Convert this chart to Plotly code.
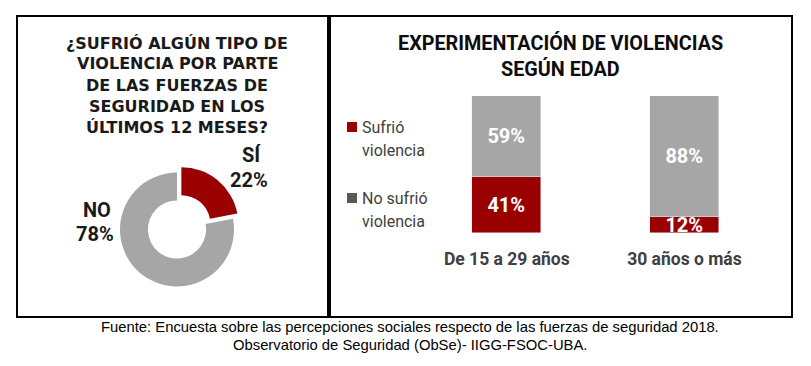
import plotly.graph_objects as go

# ---------------- data ----------------
pie_labels = ["SÍ", "NO"]
pie_values = [22, 78]

age_groups = ["De 15 a 29 años", "30 años o más"]
series_names = ["Sufrió violencia", "No sufrió violencia"]
sufrio = [41, 12]
no_sufrio = [59, 88]

left_title = ["¿SUFRIÓ ALGÚN TIPO DE", "VIOLENCIA POR PARTE", "DE LAS FUERZAS DE",
              "SEGURIDAD EN LOS", "ÚLTIMOS 12 MESES?"]
right_title = ["EXPERIMENTACIÓN DE VIOLENCIAS", "SEGÚN EDAD"]
footer = ["Fuente: Encuesta sobre las percepciones sociales respecto de las fuerzas de seguridad 2018.",
          "Observatorio de Seguridad (ObSe)- IIGG-FSOC-UBA."]

# ---------------- styles ----------------
W, H = 811, 366
OFF = 8  # page body margin
RED = "#9A0000"
GRAY = "#A6A6A6"
DGRAY = "#595959"
NARROW = "Roboto, Liberation Sans, Arial, sans-serif"
SANS = "Liberation Sans, Arial, sans-serif"
WIDE = "DejaVu Sans, Verdana, sans-serif"


def fx(x):
    return (x - OFF) / W


def fy(y):
    return 1 - (y - OFF) / H


fig = go.Figure()

# donut
cx, cy, r, pull = 177, 229.5, 57, 0.12
half = r * (1 + pull)
fig.add_trace(go.Pie(
    labels=pie_labels, values=pie_values, hole=0.51, sort=False,
    direction="clockwise", rotation=0, pull=[pull, 0],
    marker=dict(colors=[RED, GRAY], line=dict(width=0)),
    textinfo="none", hoverinfo="label+percent", showlegend=False,
    domain=dict(x=[fx(cx - half), fx(cx + half)], y=[fy(cy + half), fy(cy - half)]),
))

# stacked bars
bar_font = dict(family=NARROW, size=20, color="white", weight="bold")
fig.add_trace(go.Bar(
    x=age_groups, y=sufrio, name=series_names[0], marker_color=RED, width=0.39,
    text=[f"{v}%" for v in sufrio], textposition="inside", insidetextanchor="middle",
    textangle=0, constraintext="none", textfont=bar_font, showlegend=False,
))
fig.add_trace(go.Bar(
    x=age_groups, y=no_sufrio, name=series_names[1], marker_color=GRAY, width=0.39,
    text=[f"{v}%" for v in no_sufrio], textposition="inside", insidetextanchor="middle",
    textangle=0, constraintext="none", textfont=bar_font, showlegend=False,
))

x0, x1 = 347, 791
fig.update_layout(
    width=W, height=H, margin=dict(l=0, r=0, t=0, b=0),
    paper_bgcolor="white", plot_bgcolor="white",
    barmode="stack", bargap=0,
    xaxis=dict(domain=[fx(x0), fx(x1)], range=[-0.9, 1.6], showgrid=False,
               zeroline=False, showline=False, ticks="", ticklabelstandoff=13,
               tickfont=dict(family=NARROW, size=17.5, color="#404040", weight="bold")),
    yaxis=dict(domain=[fy(233), fy(96)], range=[0, 100], visible=False),
)

shapes = [
    dict(type="rect", xref="paper", yref="paper", x0=fx(17), x1=fx(328), y0=fy(317), y1=fy(16),
         line=dict(color="black", width=2)),
    dict(type="rect", xref="paper", yref="paper", x0=fx(330), x1=fx(792), y0=fy(317), y1=fy(16),
         line=dict(color="black", width=2)),
    dict(type="rect", xref="paper", yref="paper", x0=fx(347), x1=fx(357), y0=fy(132), y1=fy(122),
         fillcolor=RED, line=dict(width=0)),
    dict(type="rect", xref="paper", yref="paper", x0=fx(347), x1=fx(357), y0=fy(203), y1=fy(193),
         fillcolor=DGRAY, line=dict(width=0)),
]

ann = []
for i, line in enumerate(left_title):
    ann.append(dict(text=line, x=fx(177), y=fy(43 + 21 * i),
                    font=dict(family=WIDE, size=16, color="#1a1a1a", weight="bold")))
for i, line in enumerate(right_title):
    ann.append(dict(text=line, x=fx(560.5), y=fy(43 + 26 * i),
                    font=dict(family=NARROW, size=19.8, color="#0d0d0d", weight="bold")))
pie_font = dict(family=NARROW, size=20, color="#1a1a1a", weight="bold")
ann += [
    dict(text=pie_labels[0], x=fx(263), y=fy(155), xanchor="right", font=pie_font),
    dict(text=f"{pie_values[0]}%", x=fx(270), y=fy(180), xanchor="right", font=pie_font),
    dict(text=pie_labels[1], x=fx(96.5), y=fy(210), font=pie_font),
    dict(text=f"{pie_values[1]}%", x=fx(95), y=fy(234), font=pie_font),
]
leg_font = dict(family=NARROW, size=16, color="#404040")
leg_lines = [("Sufrió", 127), ("violencia", 150), ("No sufrió", 198), ("violencia", 221)]
for t, yy in leg_lines:
    ann.append(dict(text=t, x=fx(360), y=fy(yy), xanchor="left", font=leg_font))
for i, line in enumerate(footer):
    ann.append(dict(text=line, x=fx(410), y=fy(327 + 18 * i),
                    font=dict(family=SANS, size=14.8, color="black")))

for a in ann:
    a.update(xref="paper", yref="paper", showarrow=False)
    a.setdefault("xanchor", "center")
    a.setdefault("yanchor", "middle")

fig.update_layout(shapes=shapes, annotations=ann)
fig.write_html("out.html")
